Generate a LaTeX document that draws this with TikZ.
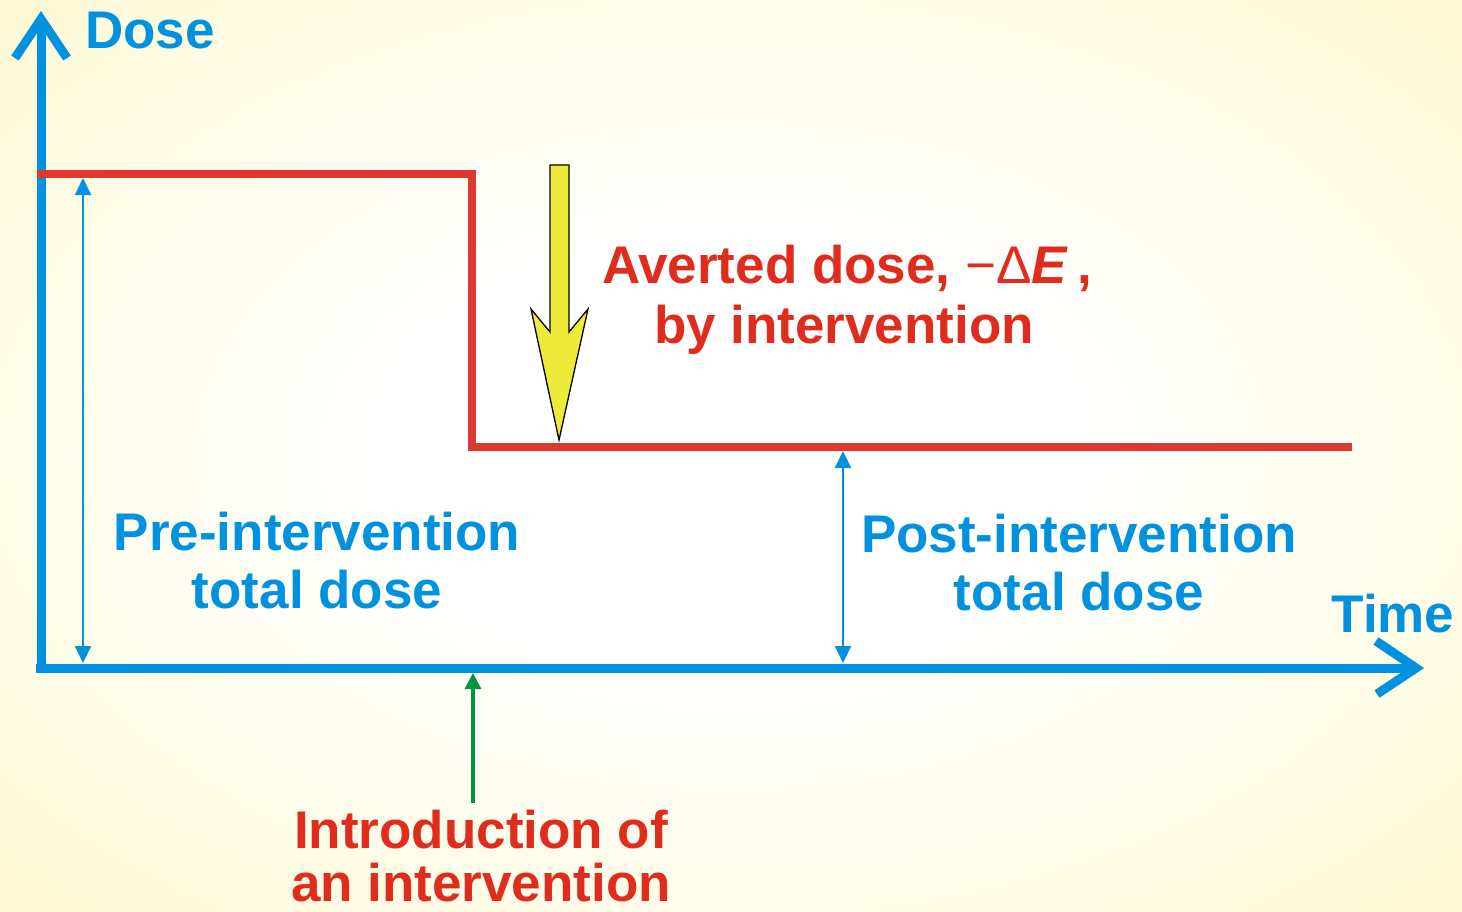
\documentclass[tikz,border=0pt]{standalone}
\usepackage{fontspec}
\setmainfont{Liberation Sans}
\usetikzlibrary{arrows.meta}

\definecolor{axisblue}{RGB}{0,146,222}
\definecolor{doseline}{RGB}{222,56,48}
\definecolor{labelred}{RGB}{224,44,28}
\definecolor{pointeryellow}{RGB}{238,234,58}
\definecolor{markgreen}{RGB}{0,150,64}
\definecolor{bgyellow}{RGB}{253,242,158}

% pale centre fading to warm yellow at the edges
\pgfdeclareradialshading{softglow}{\pgfpoint{0bp}{0bp}}{%
  color(0bp)=(white); color(12bp)=(white); color(66bp)=(bgyellow); color(72bp)=(bgyellow)}

\begin{document}
\begin{tikzpicture}[x=1pt,y=-1pt,
  axis/.style={draw=axisblue,line width=9pt},
  chevron/.style={draw=axisblue,line width=9pt,line join=miter,miter limit=10},
  doseprofile/.style={draw=doseline,line width=8pt,line join=miter},
  span/.style={draw=axisblue,line width=2.2pt,
    {Triangle[length=17pt,width=16pt]}-{Triangle[length=17pt,width=16pt]}},
  marker/.style={draw=markgreen,line width=3.2pt,
    -{Triangle[length=16pt,width=16pt]}},
  bigtext/.style={font=\bfseries\fontsize{53}{60}\selectfont,anchor=base,inner sep=0pt},
  bluetext/.style={bigtext,text=axisblue},
  redtext/.style={bigtext,text=labelred}]

% background
\shade[shading=softglow] (0,0) rectangle (1462,911);
\useasboundingbox (0,0) rectangle (1462,911);

% key points of the axes and the dose profile
\coordinate (origin) at (41,668);
\coordinate (ytip) at (41,19);
\coordinate (xtip) at (1416,668);
\coordinate (pstart) at (37,174);
\coordinate (pcorner) at (472,174);
\coordinate (pdrop) at (472,447);
\coordinate (pend) at (1352,447);

% axes with open arrow heads
\draw[axis] (41,673) -- (ytip);
\draw[chevron] (15,58) -- (ytip) -- (67,58);
\draw[axis] (36,668) -- (xtip);
\draw[chevron] (1376,641) -- (xtip) -- (1377,694);

% dose before and after the intervention
\draw[doseprofile] (pstart) -- (pcorner) -- (pdrop) -- (pend);

% dose spans
\coordinate (preTop) at (83,178);
\coordinate (preBot) at (83,663);
\coordinate (postTop) at (843,451);
\coordinate (postBot) at (843,663);
\draw[span] (preBot) -- (preTop);
\draw[span] (postBot) -- (postTop);

% moment of the intervention
\coordinate (introBase) at (473,803);
\coordinate (introTip) at (473,673);
\draw[marker] (introBase) -- (introTip);

% averted dose pointer
\draw[fill=pointeryellow,draw=black,line width=1.3pt,line join=miter]
  (550,165) -- (569,165) -- (569,332) -- (588,309) -- (559,440)
  -- (531,309) -- (550,332) -- cycle;

% labels
\node[bluetext] (dose) at (150,48) {Dose};
\node[bluetext] (time) at (1393,632) {Time};
\node[bluetext] (pre1) at (317,550) {Pre-intervention};
\node[bluetext] (pre2) at (317,608) {total dose};
\node[bluetext] (post1) at (1079,552) {Post-intervention};
\node[bluetext] (post2) at (1079,610) {total dose};
\node[redtext] (avert1) at (847,283) {Averted dose, {\mdseries\upshape \textminus Δ}\textit{E}\,,};
\node[redtext] (avert2) at (844,343) {by intervention};
\node[redtext] (intro1) at (481,848) {Introduction of};
\node[redtext] (intro2) at (481,901) {an intervention};
\end{tikzpicture}
\end{document}
